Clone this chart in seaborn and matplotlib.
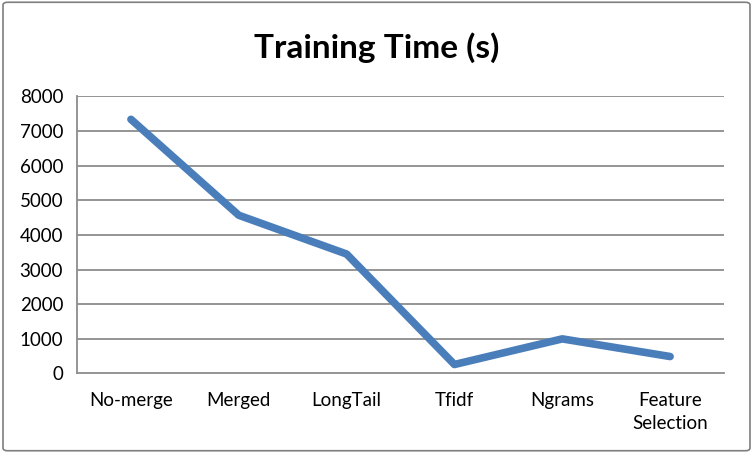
import pandas as pd
import seaborn as sns
import matplotlib.pyplot as plt
from matplotlib.patches import FancyBboxPatch

# Daten
categories = ['No-merge', 'Merged', 'LongTail', 'Tfidf', 'Ngrams', 'Feature\nSelection']
training_time = [7340, 4570, 3450, 260, 1000, 490]
y_ticks = [0, 1000, 2000, 3000, 4000, 5000, 6000, 7000, 8000]

df = pd.DataFrame({'category': categories, 'time': training_time})

sns.set_style('white')
plt.rcParams['font.family'] = ['Lato', 'DejaVu Sans']
plt.rcParams['text.color'] = 'black'
plt.rcParams['xtick.labelcolor'] = 'black'
plt.rcParams['ytick.labelcolor'] = 'black'

fig = plt.figure(figsize=(7.53, 4.53), dpi=100)
ax = fig.add_axes([0.1023, 0.1755, 0.8592, 0.6115])

grid_col = '#8c8c8c'
for t in y_ticks[1:]:
    ax.axhline(t, color=grid_col, lw=1.3, zorder=0)

sns.lineplot(data=df, x='category', y='time', sort=False, color='#4a7ebb',
             lw=5.5, solid_capstyle='round', solid_joinstyle='round', ax=ax)

ax.set_xlim(-0.5, len(categories) - 0.5)
ax.set_ylim(0, 8000)
ax.set_yticks(y_ticks)
ax.set_yticklabels([str(t) for t in y_ticks], fontsize=13.5, color='black')

# Trennstriche zwischen den Kategorien, Beschriftung mittig
ax.set_xticks([i - 0.5 for i in range(len(categories) + 1)])
ax.set_xticklabels([])
ax.set_xticks(range(len(categories)), minor=True)
ax.set_xticklabels(categories, minor=True, fontsize=13.5, linespacing=1.45, color='black')
ax.tick_params(axis='x', which='major', length=6, width=1.3, color=grid_col, direction='out')
ax.tick_params(axis='x', which='minor', length=0, pad=13)
ax.tick_params(axis='y', length=5, width=1.3, color=grid_col, direction='out', pad=5)

ax.set_xlabel('')
ax.set_ylabel('')
for side in ['top', 'right']:
    ax.spines[side].set_visible(False)
for side in ['left', 'bottom']:
    ax.spines[side].set_color(grid_col)
    ax.spines[side].set_linewidth(1.3)

fig.text(0.5, 0.895, 'Training Time (s)', ha='center', va='center',
         fontsize=24, fontweight='bold', color='black')

# Rahmen um das ganze Diagramm
border = FancyBboxPatch((0.004, 0.005), 0.992, 0.99, boxstyle='round,pad=0,rounding_size=0.006',
                        transform=fig.transFigure, fill=False, edgecolor='#7f7f7f', lw=1.2)
fig.patches.append(border)

fig.savefig('out.png', dpi=100)
